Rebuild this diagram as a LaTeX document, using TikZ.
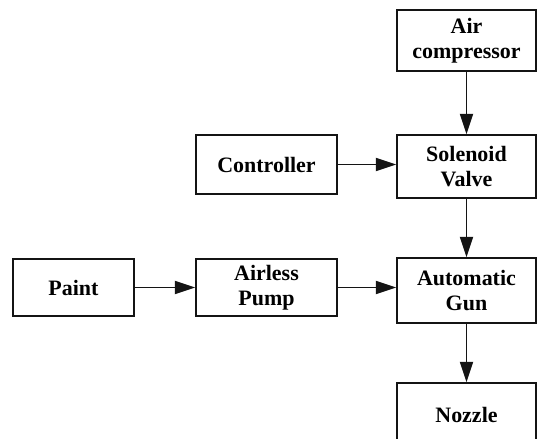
\documentclass[tikz,border=0pt]{standalone}
\usepackage{fontspec}
\setmainfont{Liberation Serif}
\usetikzlibrary{arrows.meta}
\definecolor{linecol}{RGB}{20, 20, 20}
\tikzset{
  blk/.style  = {draw=linecol, line width=1pt, align=center, inner sep=0pt,
                 font=\bfseries\fontsize{12.5}{14.2}\selectfont},
  wide/.style = {blk, minimum width=2.78cm},
  flow/.style = {-{Triangle[length=11.5pt, width=7.5pt]}, draw=linecol,
                 line width=0.7pt},
}

\begin{document}
\begin{tikzpicture}

  \useasboundingbox (0,0) rectangle (10.76,-8.78);

  %% ---------------- air side ----------------
  \node[wide, minimum height=1.22cm] (air)   at (9.33,-0.81) {Air\\compressor};
  \node[wide, minimum height=1.26cm] (valve) at (9.33,-3.33) {Solenoid\\Valve};
  \node[blk, minimum width=2.82cm, minimum height=1.18cm] (ctrl) at (5.33,-3.29) {Controller};

  %% ---------------- paint side ----------------
  \node[blk, minimum width=2.42cm, minimum height=1.14cm] (paint) at (1.47,-5.75) {Paint};
  \node[blk, minimum width=2.82cm, minimum height=1.14cm] (pump)  at (5.33,-5.75) {Airless\\Pump};
  \node[wide, minimum height=1.30cm] (gun)    at (9.33,-5.81) {Automatic\\Gun};
  \node[wide, minimum height=1.26cm] (nozzle) at (9.33,-8.29) {Nozzle};

  %% ---------------- connections ----------------
  \draw[flow] (air) -- (valve);
  \draw[flow] (ctrl.east) -- (ctrl.east -| valve.west);
  \draw[flow] (valve) -- (gun);
  \draw[flow] (paint) -- (pump);
  \draw[flow] (pump.east) -- (pump.east -| gun.west);
  \draw[flow] (gun) -- (nozzle);

\end{tikzpicture}
\end{document}
